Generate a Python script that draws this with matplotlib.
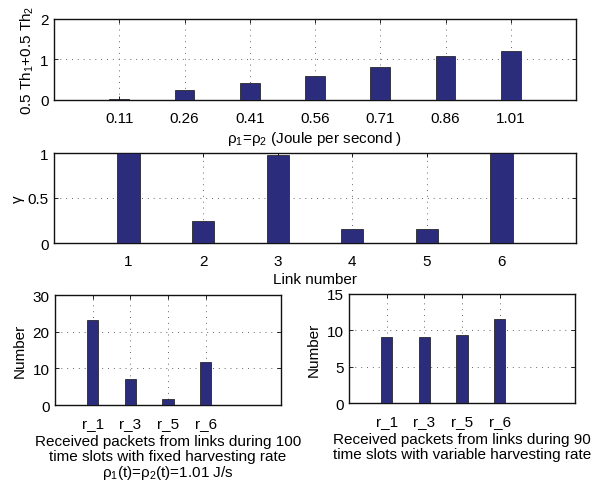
import matplotlib
matplotlib.use("Agg")
import matplotlib.pyplot as plt
import numpy as np

plt.rcParams['font.family'] = ['Liberation Sans', 'DejaVu Sans']
plt.rcParams['mathtext.fontset'] = 'custom'
plt.rcParams['mathtext.rm'] = 'Liberation Sans'
plt.rcParams['mathtext.it'] = 'Liberation Sans'
FS = 11
plt.rcParams['font.size'] = FS

# Data
rho_labels = ["0.11", "0.26", "0.41", "0.56", "0.71", "0.86", "1.01"]
throughput = [0.03, 0.24, 0.42, 0.60, 0.82, 1.07, 1.21]

link_labels = ["1", "2", "3", "4", "5", "6"]
gamma = [1.0, 0.244, 0.98, 0.152, 0.158, 1.0]

recv_labels = ["r_1", "r_3", "r_5", "r_6"]
recv_fixed = [23.2, 7.1, 1.6, 11.7]
recv_var = [9.05, 9.12, 9.4, 11.6]

bar_color = "#2B2C7C"
W, H = 598, 489
fig = plt.figure(figsize=(W / 100, H / 100), dpi=100)


def px_axes(l, t, r, b):
    return fig.add_axes([l / W, 1 - b / H, (r - l) / W, (b - t) / H])


def style(ax):
    ax.tick_params(direction='in', length=3, width=0.6, top=True, right=True,
                   labelsize=FS)
    ax.tick_params(axis='x', pad=8)
    ax.tick_params(axis='y', pad=4)
    for s in ax.spines.values():
        s.set_linewidth(1.0)
        s.set_color('#111111')
    ax.grid(True, linestyle=(0, (1, 5)), color='#666666', linewidth=0.7)
    ax.set_axisbelow(True)


def bars(ax, labels, vals, ylim, yticks, nslots):
    x = np.arange(1, len(vals) + 1)
    ax.bar(x, vals, width=0.3, color=bar_color, edgecolor='#111111', linewidth=0.5, zorder=3)
    ax.set_xlim(0, nslots)
    ax.set_xticks(x)
    ax.set_xticklabels(labels)
    ax.set_ylim(*ylim)
    ax.set_yticks(yticks)
    style(ax)


ax1 = px_axes(54, 19.5, 576, 101)
bars(ax1, rho_labels, throughput, (0, 2), [0, 1, 2], 8)
ax1.set_yticklabels(["0", "1", "2"])
ax1.set_xlabel("ρ$_1$=ρ$_2$ (Joule per second )", labelpad=3)
ax1.set_ylabel("0.5 Th$_1$+0.5 Th$_2$", labelpad=3)

ax2 = px_axes(54, 154, 576, 244)
bars(ax2, link_labels, gamma, (0, 1), [0, 0.5, 1], 7)
ax2.set_yticklabels(["0", "0.5", "1"])
ax2.set_xlabel("Link number", labelpad=3)
ax2.set_ylabel("γ", labelpad=2)

ax3 = px_axes(55, 296, 281, 406)
bars(ax3, recv_labels, recv_fixed, (0, 30), [0, 10, 20, 30], 6)
ax3.set_ylabel("Number", labelpad=4)
ax3.set_xlabel("Received packets from links during 100\n"
               "time slots with fixed harvesting rate\n"
               "ρ$_1$(t)=ρ$_2$(t)=1.01 J/s", labelpad=3, linespacing=1.05)

ax4 = px_axes(349, 295, 575, 404)
bars(ax4, recv_labels, recv_var, (0, 15), [0, 5, 10, 15], 6)
ax4.set_ylabel("Number", labelpad=4)
ax4.set_xlabel("Received packets from links during 90\n"
               "time slots with variable harvesting rate", labelpad=3, linespacing=1.05)

fig.savefig("out.png", dpi=100)
